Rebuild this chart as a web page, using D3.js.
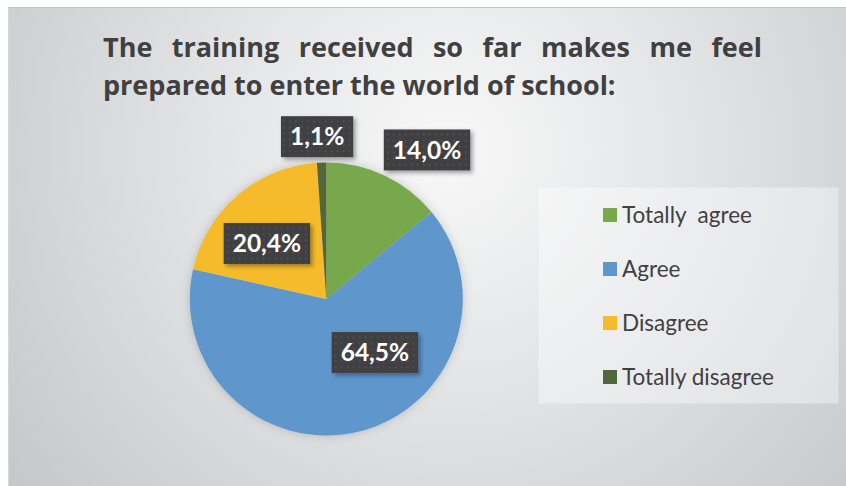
<!DOCTYPE html>
<html><head><meta charset="utf-8">
<script src="https://cdn.jsdelivr.net/npm/d3@7"></script>
<style>html,body{margin:0;padding:0;background:#fff;}svg{display:block;}</style>
</head><body>
<svg id="chart" width="846" height="486"></svg>
<script>
const categories = ["Totally  agree", "Agree", "Disagree", "Totally disagree"];
const values = [14.0, 64.5, 20.4, 1.1];
const valueLabels = ["14,0%", "64,5%", "20,4%", "1,1%"];
const colors = ["#77a84b", "#5e97cc", "#f5bb2b", "#51683a"];
const titleLines = ["The training received so far makes me feel", "prepared to enter the world of school:"];
// label layout: centroid radius factor and pixel nudges
const labelRadius = [1.32, 0.53, 0.6, 1.19];
const labelNudge = [[24,14],[31.7,-16.8],[-6,6.6],[-3.6,0]];

const W = 846, H = 486;
const svg = d3.select("#chart");
const defs = svg.append("defs");

const bg = defs.append("radialGradient").attr("id","bg")
  .attr("gradientUnits","userSpaceOnUse").attr("cx",450).attr("cy",150).attr("r",560);
bg.append("stop").attr("offset","0").attr("stop-color","#f8f8f8");
bg.append("stop").attr("offset","0.45").attr("stop-color","#e2e3e5");
bg.append("stop").attr("offset","1").attr("stop-color","#c5c6c9");

const pat = defs.append("pattern").attr("id","dots").attr("patternUnits","userSpaceOnUse")
  .attr("width",6).attr("height",6);
pat.append("rect").attr("width",6).attr("height",6).attr("fill","#414143");
pat.append("rect").attr("x",2).attr("y",2).attr("width",1.3).attr("height",1.3).attr("fill","#5b5b5e");

const sh = defs.append("filter").attr("id","pieShadow").attr("x","-20%").attr("y","-20%").attr("width","140%").attr("height","140%");
sh.append("feDropShadow").attr("dx",0).attr("dy",0).attr("stdDeviation",5).attr("flood-color","#000").attr("flood-opacity",0.18);
const lsh = defs.append("filter").attr("id","lblShadow").attr("x","-20%").attr("y","-30%").attr("width","150%").attr("height","170%");
lsh.append("feDropShadow").attr("dx",2.5).attr("dy",2.5).attr("stdDeviation",2).attr("flood-color","#000").attr("flood-opacity",0.35);

svg.append("rect").attr("x",8).attr("y",7).attr("width",W).attr("height",H).attr("fill","url(#bg)");
svg.append("line").attr("x1",8).attr("x2",W).attr("y1",7.5).attr("y2",7.5).attr("stroke","#c4c4c6");
svg.append("line").attr("x1",8.5).attr("x2",8.5).attr("y1",7).attr("y2",H).attr("stroke","#d6d6d8");

// Title, justified first line
const titleX0 = 103, titleX1 = 762;
const tg = svg.append("g").attr("font-family","'Open Sans', Lato, sans-serif").attr("font-weight","bold")
  .attr("font-size",27).attr("fill","#404040");
titleLines.forEach((line, i) => {
  const y = 57 + i*37.5;
  const words = line.split(" ");
  if (i === 0) {
    const nodes = words.map(w => tg.append("text").attr("y",y).text(w));
    const widths = nodes.map(n => n.node().getComputedTextLength());
    const total = d3.sum(widths);
    const gap = (titleX1 - titleX0 - total) / (words.length - 1);
    let x = titleX0;
    nodes.forEach((n, k) => { n.attr("x", x); x += widths[k] + gap; });
  } else {
    tg.append("text").attr("x",titleX0).attr("y",y).text(line);
  }
});

// Pie
const cx = 326.3, cy = 299, R = 136.5;
const pie = d3.pie().sort(null).value(d => d)(values);
const arc = d3.arc().innerRadius(0).outerRadius(R);
const pg = svg.append("g").attr("transform",`translate(${cx},${cy})`);
pg.append("g").attr("filter","url(#pieShadow)").selectAll("path").data(pie).join("path")
  .attr("d",arc).attr("fill",(d,i)=>colors[i]);

// Labels
const lg = pg.append("g");
pie.forEach((d,i) => {
  const la = d3.arc().innerRadius(R*labelRadius[i]).outerRadius(R*labelRadius[i]);
  const [x0,y0] = la.centroid(d);
  const x = x0 + labelNudge[i][0], y = y0 + labelNudge[i][1];
  const g = lg.append("g").attr("transform",`translate(${x},${y})`);
  const box = g.append("rect").attr("fill","url(#dots)").attr("filter","url(#lblShadow)");
  const t = g.append("text").attr("text-anchor","middle").attr("dy","0.36em")
    .attr("font-family","Lato, 'Open Sans', sans-serif").attr("font-weight","bold")
    .attr("font-size",24.5).attr("fill","#ffffff").text(valueLabels[i]);
  const tw = t.node().getComputedTextLength();
  const bw = tw + 18, bh = 41;
  box.attr("x",-bw/2).attr("y",-bh/2).attr("width",bw).attr("height",bh);
});

// Legend
const legX = 538.5, legY = 187.5, legW = 300, legH = 216;
svg.append("rect").attr("x",legX).attr("y",legY).attr("width",legW).attr("height",legH)
  .attr("fill","#ffffff").attr("fill-opacity",0.38);
const rowY = d3.scalePoint().domain(categories).range([215, 377]);
const leg = svg.append("g");
categories.forEach((c,i) => {
  const y = rowY(c);
  leg.append("rect").attr("x",603).attr("y",y-7).attr("width",14).attr("height",14).attr("fill",colors[i]);
  leg.append("text").attr("x",622).attr("y",y).attr("dy","0.35em")
    .attr("font-family","Lato, 'Open Sans', sans-serif").attr("font-size",22.5)
    .attr("fill","#404040").attr("xml:space","preserve").style("white-space","pre").text(c);
});
</script>
</body></html>
